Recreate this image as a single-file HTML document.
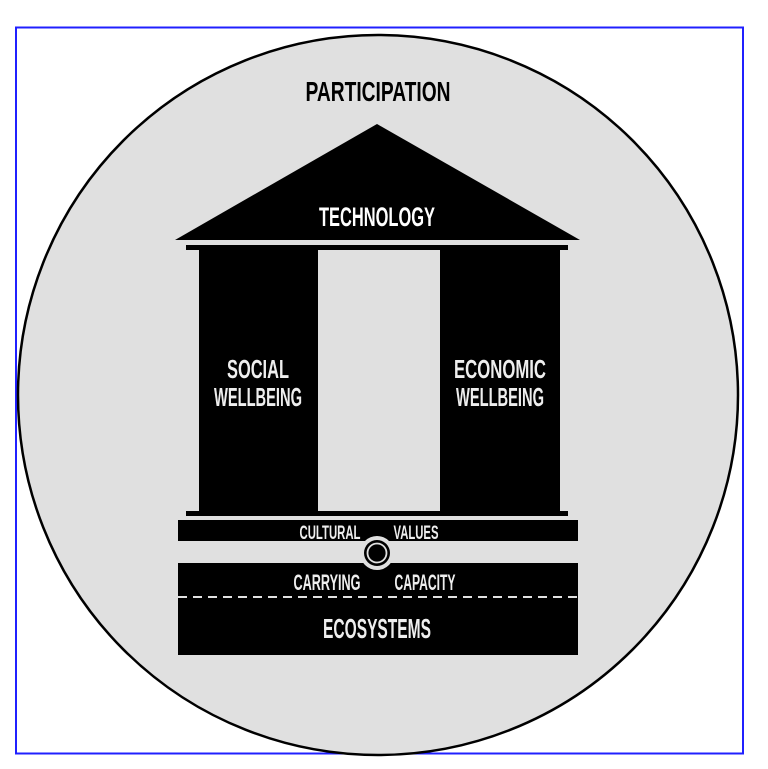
<!DOCTYPE html>
<html><head><meta charset="utf-8"><style>
html,body{margin:0;padding:0;background:#fff;width:768px;height:769px;overflow:hidden}
text{font-family:"Liberation Sans Narrow","Liberation Sans",sans-serif;font-weight:bold}
</style></head><body>
<svg width="768" height="769" viewBox="0 0 768 769" xmlns="http://www.w3.org/2000/svg">
<rect x="16" y="27.5" width="727" height="726" fill="none" stroke="#2020ff" stroke-width="2"/>
<circle cx="378" cy="395" r="360" fill="#e0e0e0" stroke="#000" stroke-width="2.5"/>
<text x="378" y="101" font-size="28" text-anchor="middle" fill="#000" textLength="145" lengthAdjust="spacingAndGlyphs">PARTICIPATION</text>
<polygon points="377,124 175,240 580,240" fill="#000"/>
<text x="377" y="226" font-size="27" text-anchor="middle" fill="#fff" textLength="116" lengthAdjust="spacingAndGlyphs">TECHNOLOGY</text>
<rect x="186" y="245" width="382" height="5" fill="#000"/>
<rect x="199" y="250" width="119" height="262" fill="#000"/>
<rect x="440" y="250" width="120" height="262" fill="#000"/>
<text x="258" y="378" font-size="26" text-anchor="middle" fill="#eee" textLength="62" lengthAdjust="spacingAndGlyphs">SOCIAL</text>
<text x="258" y="406" font-size="26" text-anchor="middle" fill="#eee" textLength="88" lengthAdjust="spacingAndGlyphs">WELLBEING</text>
<text x="500" y="378" font-size="26" text-anchor="middle" fill="#eee" textLength="92" lengthAdjust="spacingAndGlyphs">ECONOMIC</text>
<text x="500" y="406" font-size="26" text-anchor="middle" fill="#eee" textLength="88" lengthAdjust="spacingAndGlyphs">WELLBEING</text>
<rect x="186" y="511" width="382" height="5" fill="#000"/>
<rect x="178" y="520" width="400" height="21" fill="#000"/>
<text x="330" y="539" font-size="19" text-anchor="middle" fill="#eee" textLength="61" lengthAdjust="spacingAndGlyphs">CULTURAL</text>
<text x="416" y="539" font-size="19" text-anchor="middle" fill="#eee" textLength="45" lengthAdjust="spacingAndGlyphs">VALUES</text>
<rect x="178" y="563" width="400" height="92" fill="#000"/>
<line x1="178" y1="597" x2="578" y2="597" stroke="#e0e0e0" stroke-width="2" stroke-dasharray="9,6"/>
<text x="327" y="590" font-size="22" text-anchor="middle" fill="#eee" textLength="67" lengthAdjust="spacingAndGlyphs">CARRYING</text>
<text x="425" y="590" font-size="22" text-anchor="middle" fill="#eee" textLength="61" lengthAdjust="spacingAndGlyphs">CAPACITY</text>
<text x="377" y="638" font-size="28" text-anchor="middle" fill="#eee" textLength="108" lengthAdjust="spacingAndGlyphs">ECOSYSTEMS</text>
<circle cx="377" cy="553" r="17" fill="#e0e0e0"/>
<circle cx="377" cy="553" r="13" fill="#000"/>
<circle cx="377" cy="553" r="9.5" fill="none" stroke="#e0e0e0" stroke-width="1.8"/>
</svg>
</body></html>
